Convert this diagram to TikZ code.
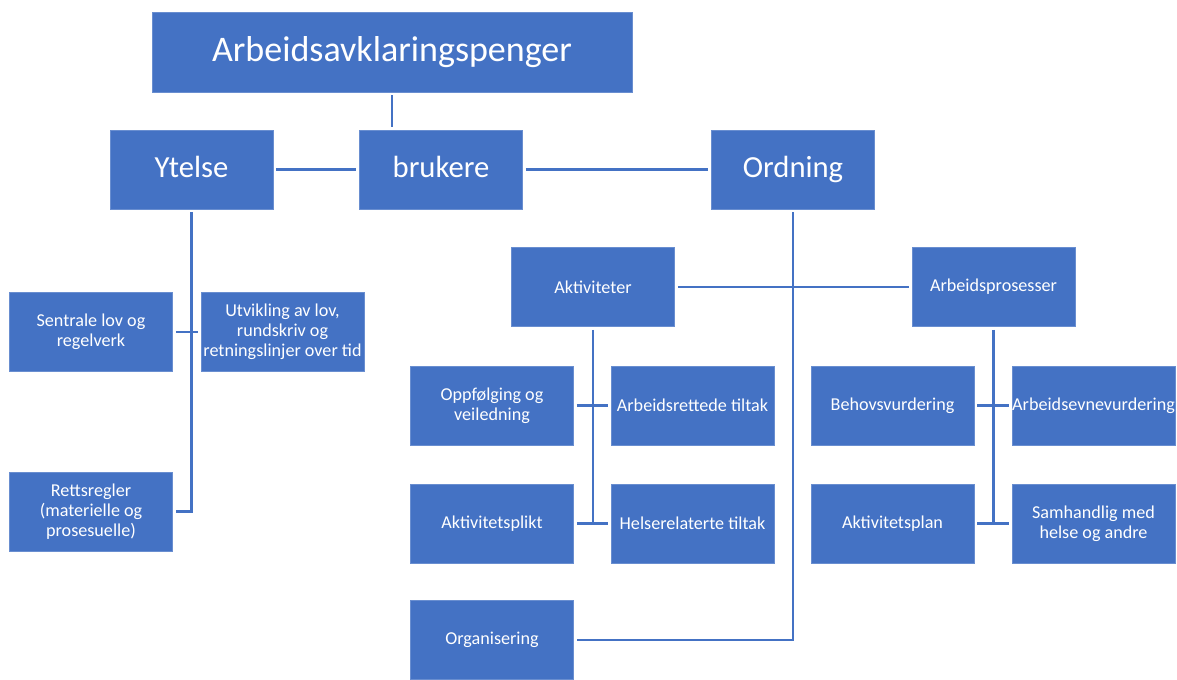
\documentclass[tikz,border=0pt]{standalone}
\usepackage{fontspec}
\setmainfont{Carlito}
\definecolor{boxblue}{HTML}{4472C4}
\tikzset{
  box/.style={rectangle, fill=boxblue, draw=boxblue!80!white, line width=0.6pt, text=white, align=center,
    minimum width=122.25pt, minimum height=59.25pt, inner xsep=0pt, inner ysep=2pt, outer sep=2.5pt,
    font=\fontsize{13.6}{15}\selectfont},
  midbox/.style={box, font=\fontsize{23}{27}\selectfont, text height=15.5pt, text depth=4pt},
  topbox/.style={box, minimum width=360pt, minimum height=60pt, font=\fontsize{27}{32}\selectfont, text height=18.5pt, text depth=4.8pt},
  conn/.style={draw=boxblue, line width=2.2pt}
}
\begin{document}
\begin{tikzpicture}[x=0.75pt,y=-0.75pt]
\useasboundingbox[fill=white] (0,0) rectangle (1177,680);
\begin{scope}
\clip (0,0) rectangle (1177,680);
\node[topbox] (top) at (392,52) {Arbeidsavklaringspenger};
\node[midbox] (ytelse) at (191.5,169.5) {Ytelse};
\node[midbox] (brukere) at (441,169.5) {brukere};
\node[midbox] (ordning) at (793,169.5) {Ordning};
\node[box] (sentrale) at (91,332) {Sentrale lov og\\regelverk};
\node[box] (utvikling) at (282.5,332) {Utvikling av lov,\\rundskriv og\\retningslinjer over tid};
\node[box] (retts) at (91,511.5) {Rettsregler\\(materielle og\\prosesuelle)};
\node[box] (akt) at (593,287) {Aktiviteter};
\node[box] (arbp) at (993.5,287) {Arbeidsprosesser};
\node[box] (oppf) at (492,405.5) {Oppfølging og\\veiledning};
\node[box] (arbt) at (692.5,405.5) {Arbeidsrettede tiltak};
\node[box] (plikt) at (492,523.5) {Aktivitetsplikt};
\node[box] (helse) at (692.5,523.5) {Helserelaterte tiltak};
\node[box] (behov) at (892.5,405.5) {Behovsvurdering};
\node[box] (evne) at (1093.5,405.5) {Arbeidsevnevurdering};
\node[box] (plan) at (892.5,523.5) {Aktivitetsplan};
\node[box] (samh) at (1093.5,523.5) {Samhandlig med\\helse og andre};
\node[box] (org) at (492,640) {Organisering};
\end{scope}
\draw[conn] (top.south) -- (top.south |- brukere.north);
\draw[conn] (ytelse.east) -- (brukere.west);
\draw[conn] (brukere.east) -- (ordning.west);
\draw[conn] (ytelse.south) |- (retts.east);
\draw[conn] (sentrale.east) -- (utvikling.west);
\draw[conn] (ordning.south) |- (org.east);
\draw[conn] (akt.east) -- (arbp.west);
\draw[conn] (akt.south) |- (plikt.east);
\draw[conn] (plikt.east) -- (helse.west);
\draw[conn] (oppf.east) -- (arbt.west);
\draw[conn] (arbp.south) |- (plan.east);
\draw[conn] (plan.east) -- (samh.west);
\draw[conn] (behov.east) -- (evne.west);
\end{tikzpicture}
\end{document}
